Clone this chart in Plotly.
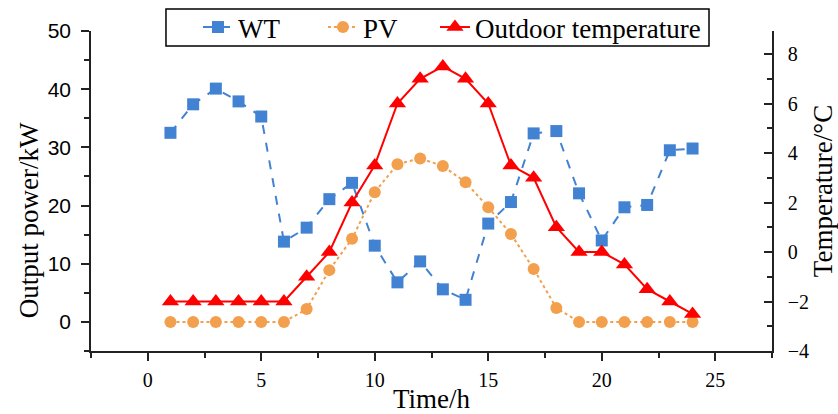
import plotly.graph_objects as go

hours = list(range(1, 25))
wt = [32.5, 37.4, 40.1, 37.9, 35.3, 13.8, 16.2, 21.1, 23.9, 13.1, 6.8, 10.4,
      5.6, 3.8, 16.9, 20.6, 32.4, 32.8, 22.1, 14.0, 19.7, 20.1, 29.5, 29.8]
pv = [0, 0, 0, 0, 0, 0, 2.2, 8.9, 14.3, 22.3, 27.1, 28.1,
      26.8, 24.0, 19.7, 15.1, 9.1, 2.4, 0, 0, 0, 0, 0, 0]
temp = [-2, -2, -2, -2, -2, -2, -1.0, 0, 2.0, 3.5, 6.0, 7.0,
        7.5, 7.0, 6.0, 3.5, 3.0, 1.0, 0, 0, -0.5, -1.5, -2.0, -2.5]

serif = "Liberation Serif, Times New Roman, serif"
sans = "Liberation Sans, Arial, sans-serif"
axc = "#222222"

fig = go.Figure()
fig.add_trace(go.Scatter(
    x=hours, y=wt, name="WT", mode="lines+markers", legend="legend",
    line=dict(color="#4282D2", width=2, dash="dash"),
    marker=dict(symbol="square", size=12, color="#4282D2"),
))
fig.add_trace(go.Scatter(
    x=hours, y=pv, name="PV", mode="lines+markers", legend="legend2",
    line=dict(color="#F2A04E", width=2, dash="dot"),
    marker=dict(symbol="circle", size=12, color="#F2A04E"),
))
fig.add_trace(go.Scatter(
    x=hours, y=temp, name="Outdoor temperature", mode="lines+markers",
    yaxis="y2", legend="legend3",
    line=dict(color="#FF0000", width=2),
    marker=dict(symbol="triangle-up", size=15, color="#FF0000"),
))

axis_common = dict(showgrid=False, zeroline=False, showline=True,
                   linecolor=axc, linewidth=1.5, automargin=False,
                   tickcolor=axc, tickwidth=1.5, ticklen=8)

leg_common = dict(orientation="h", xanchor="left", yanchor="middle", y=1.011,
                  bgcolor="rgba(0,0,0,0)", borderwidth=0,
                  font=dict(family=serif, size=27, color="black"))

fig.update_layout(
    width=838, height=414,
    margin=dict(l=91, r=66, t=31, b=63, autoexpand=False),
    paper_bgcolor="white", plot_bgcolor="white",
    showlegend=True,
    legend=dict(x=0.1571, **leg_common),
    legend2=dict(x=0.3406, **leg_common),
    legend3=dict(x=0.5051, **leg_common),
    shapes=[dict(type="rect", xref="paper", yref="paper",
                 x0=0.1101, x1=0.9075, y0=0.953, y1=1.069,
                 line=dict(color="black", width=1.5), fillcolor="white", layer="above")],
    annotations=[dict(text="Output power/kW", xref="paper", yref="paper",
                      x=-0.091, y=0.409, xanchor="center", yanchor="middle",
                      textangle=-90, showarrow=False,
                      font=dict(family=serif, size=27, color="black"))],
    xaxis=dict(range=[-2.5, 27.5], dtick=5, tick0=0, ticks="outside",
               minor=dict(dtick=2.5, ticks="outside", ticklen=5, tickcolor=axc, tickwidth=1.5),
               tickfont=dict(family=serif, size=20, color="black"),
               ticklabelstandoff=2,
               title=dict(text="Time/h", font=dict(family=serif, size=27, color="black"), standoff=2),
               **axis_common),
    yaxis=dict(range=[-5, 50], dtick=10, tick0=0, ticks="outside",
               minor=dict(dtick=5, ticks="outside", ticklen=5, tickcolor=axc, tickwidth=1.5),
               tickfont=dict(family=sans, size=21, color="black"),
               ticklabelstandoff=6,
               **axis_common),
    yaxis2=dict(range=[-4, 8.93], dtick=2, tick0=0, overlaying="y", side="right", ticks="inside",
                minor=dict(dtick=1, ticks="inside", ticklen=5, tickcolor=axc, tickwidth=1.5),
                tickfont=dict(family=serif, size=20, color="black"),
                ticklabelstandoff=10,
                title=dict(text="Temperature/°C", font=dict(family=serif, size=27, color="black"), standoff=5),
                **axis_common),
)

fig.write_html("out.html")
